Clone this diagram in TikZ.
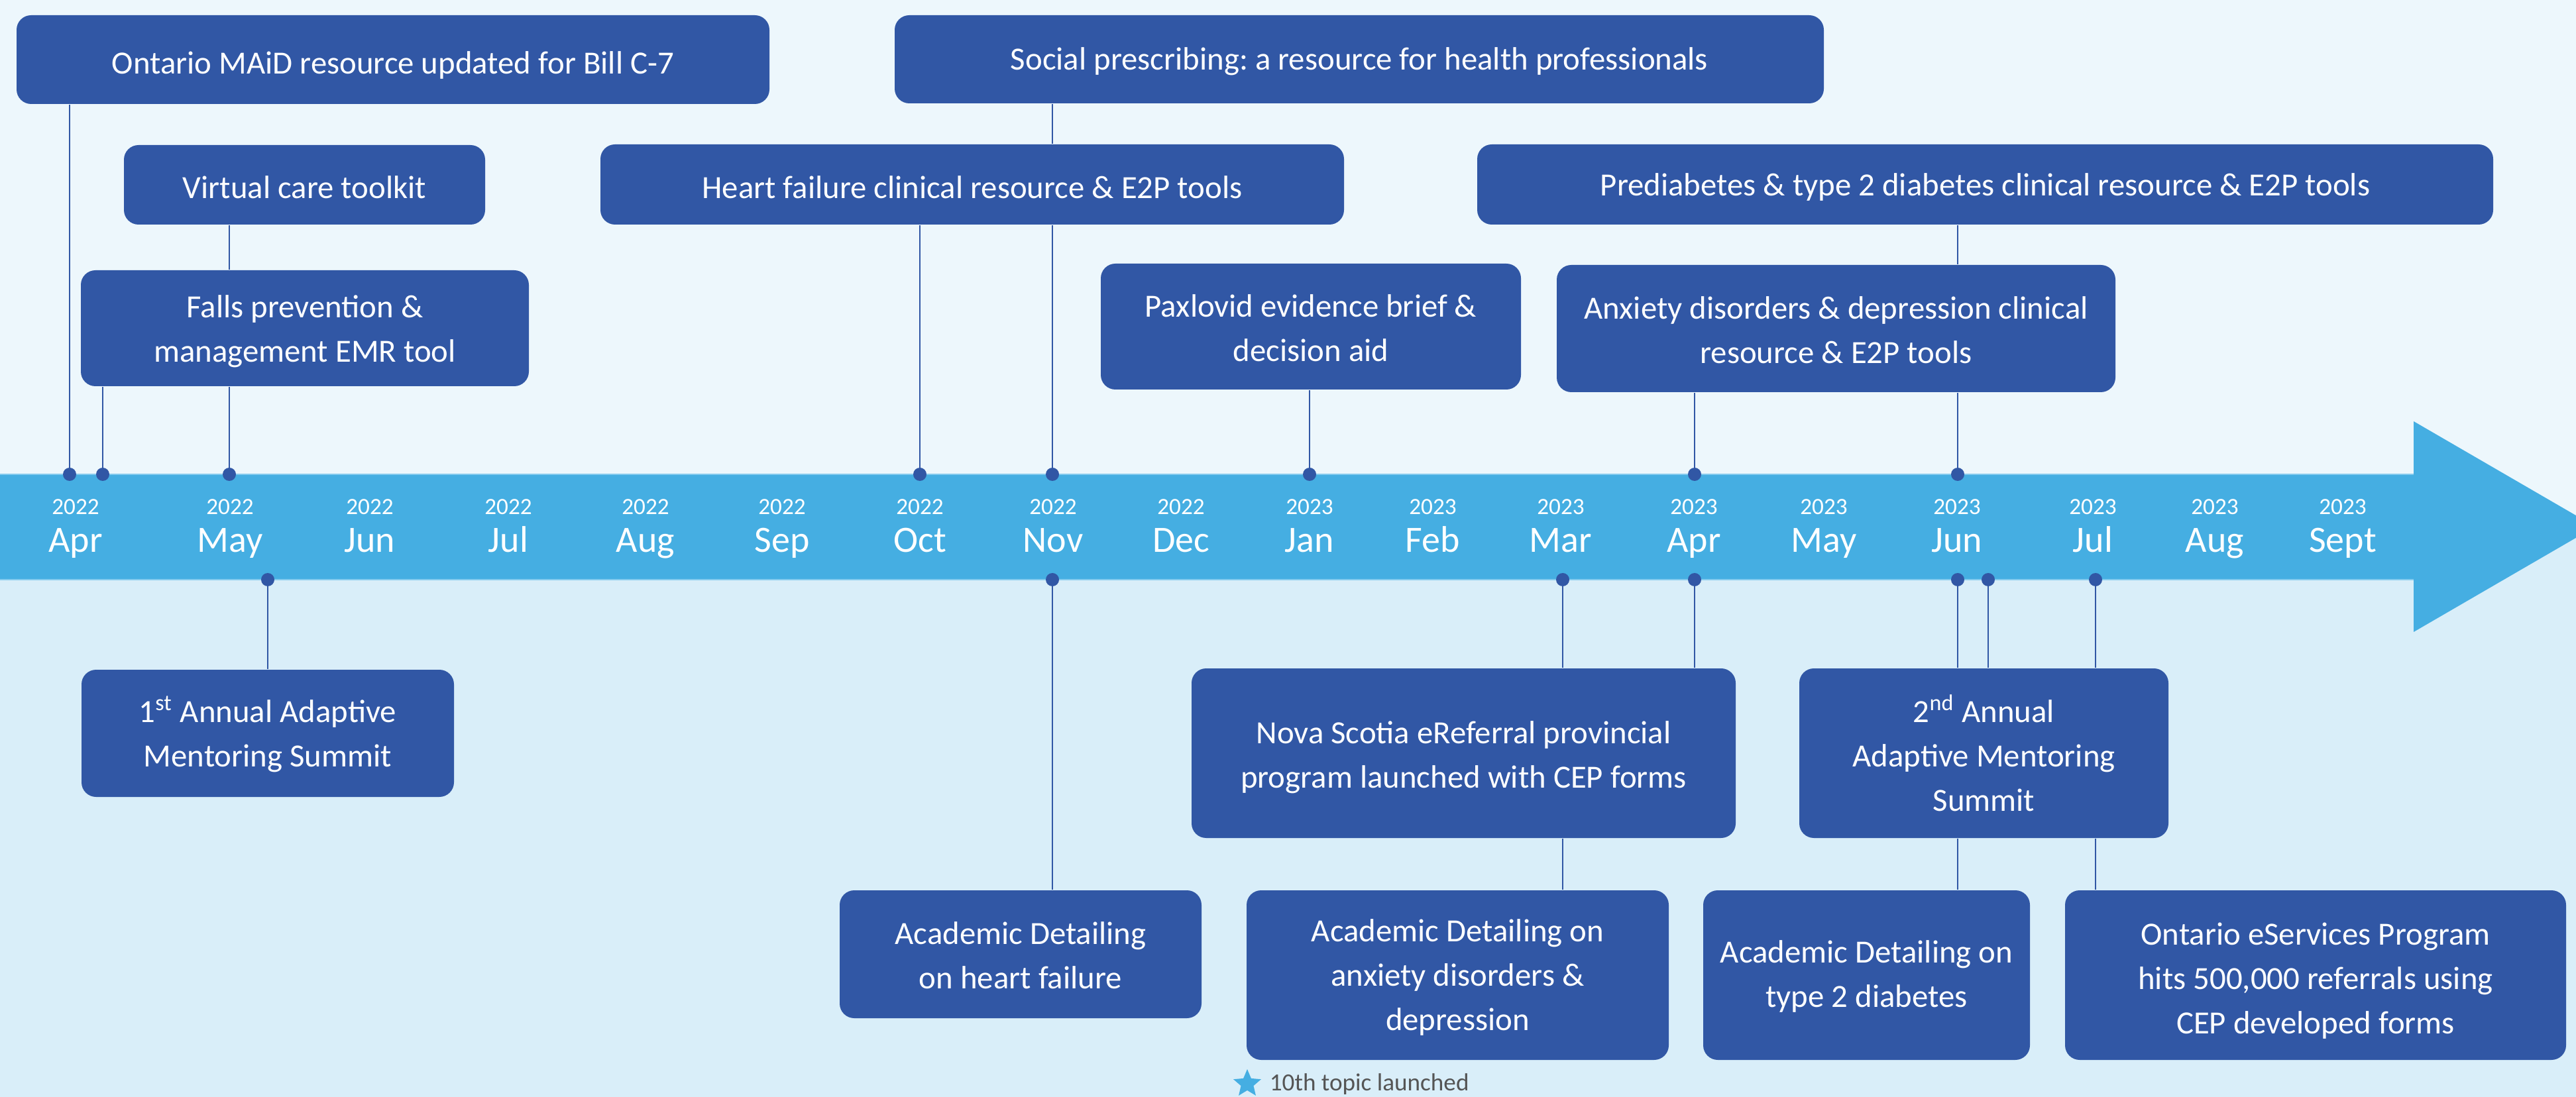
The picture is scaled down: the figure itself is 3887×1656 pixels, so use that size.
\documentclass[tikz,border=0pt]{standalone}
\usepackage{fontspec}
\setmainfont{Carlito}
\frenchspacing
\usetikzlibrary{shapes.geometric}
\definecolor{boxblue}{HTML}{3157A5}
\definecolor{bandblue}{HTML}{45AEE2}
\definecolor{bandedge}{HTML}{86CBEE}
\definecolor{bgtop}{HTML}{EDF7FC}
\definecolor{bgbot}{HTML}{D9EEF9}
\definecolor{graytext}{HTML}{555555}
\newcommand\boxfont{\fontsize{12.2pt}{16.75pt}\selectfont}
\newcommand\monthfont{\fontsize{14pt}{16pt}\selectfont}
\newcommand\yearfont{\fontsize{8.8pt}{10pt}\selectfont}
\newcommand\notefont{\fontsize{9.3pt}{11pt}\selectfont}
\tikzset{
  evshape/.style={fill=boxblue, rounded corners=5.5pt, inner sep=0pt},
  evtext/.style={text=white, font=\boxfont, align=center, inner sep=0pt},
  link/.style={draw=boxblue, line width=0.55pt},
  dotmark/.style={fill=boxblue},
  monthlbl/.style={anchor=base, text=white, font=\monthfont, inner sep=0pt},
  yearlbl/.style={anchor=base, text=white, font=\yearfont, inner sep=0pt},
}
% name, cx, cy, width, height, text shift, text
\newcommand\mkevent[7]{%
  \node[evshape, minimum width=#4, minimum height=#5] (#1) at (#2,#3) {};
  \node[evtext, yshift=#6] (#1t) at (#1.center) {#7};}
\begin{document}
\begin{tikzpicture}[x=0.25pt,y=-0.25pt]
\useasboundingbox (0,0) rectangle (3887,1656);
\clip (0,0) rectangle (3887,1656);
% background
\fill[bgtop] (0,0) rectangle (3887,795);
\fill[bgbot] (0,795) rectangle (3887,1656);
% timeline arrow
\fill[bandblue] (0,716) -- (3642,716) -- (3642,636) -- (3916,795) -- (3642,954) -- (3642,875) -- (0,875) -- cycle;
\draw[bandedge, line width=0.4pt] (0,716) -- (3642,716);
\draw[bandedge, line width=0.4pt] (0,875) -- (3642,875);

% dot coordinates
\coordinate (u1) at (105,716);
\coordinate (u2) at (155,716);
\coordinate (u3) at (346,716);
\coordinate (u4) at (1388,716);
\coordinate (u5) at (1588,716);
\coordinate (u6) at (1976,716);
\coordinate (u7) at (2557,716);
\coordinate (u8) at (2954,716);
\coordinate (d1) at (404,875);
\coordinate (d2) at (1588,875);
\coordinate (d3) at (2358,875);
\coordinate (d4) at (2557,875);
\coordinate (d5) at (2954,875);
\coordinate (d6) at (3000,875);
\coordinate (d7) at (3162,875);

% month labels
\foreach \mx/\yr/\mo [count=\i] in {114/2022/Apr,347/2022/May,558/2022/Jun,767/2022/Jul,974/2022/Aug,1180/2022/Sep,1388/2022/Oct,1589/2022/Nov,1782/2022/Dec,1976/2023/Jan,2162/2023/Feb,2355/2023/Mar,2556/2023/Apr,2752/2023/May,2953/2023/Jun,3158/2023/Jul,3342/2023/Aug,3535/2023/Sept}{
  \node[yearlbl] (yr\i) at (\mx,777) {\yr};
  \node[monthlbl] (mo\i) at (\mx,834) {\mo};
}

% upper boxes
\mkevent{maid}{593}{90}{284pt}{33.5pt}{-2.2pt}{Ontario MAiD resource updated for Bill C-7}
\mkevent{virtual}{459.5}{279}{136.25pt}{30pt}{-1pt}{Virtual care toolkit}
\mkevent{falls}{460}{495.5}{169pt}{43.75pt}{-1.2pt}{Falls prevention \&\\management EMR tool}
\mkevent{heart}{1467}{278.5}{280.5pt}{30.25pt}{-1pt}{Heart failure clinical resource \& E2P tools}
\mkevent{social}{2051}{89.5}{350.5pt}{33.25pt}{-0.8pt}{Social prescribing: a resource for health professionals}
\mkevent{pax}{1978}{493}{158.5pt}{47.5pt}{-0.6pt}{Paxlovid evidence brief \&\\decision aid}
\mkevent{prediab}{2995.5}{278.5}{383.25pt}{30.25pt}{-1pt}{Prediabetes \& type 2 diabetes clinical resource \& E2P tools}
\mkevent{anxiety}{2770.5}{496}{210.75pt}{48pt}{-0.6pt}{Anxiety disorders \& depression clinical\\resource \& E2P tools}

% lower boxes
\mkevent{first}{404}{1107}{140.5pt}{48pt}{-0.3pt}{1\textsuperscript{st} Annual Adaptive\\Mentoring Summit}
\mkevent{adhf}{1540}{1440.5}{136.5pt}{48.25pt}{-0.5pt}{Academic Detailing\\on heart failure}
\mkevent{ns}{2208.5}{1137}{205.25pt}{64pt}{-1.6pt}{Nova Scotia eReferral provincial\\program launched with CEP forms}
\mkevent{adanx}{2199.5}{1472}{159.25pt}{64pt}{-0.8pt}{Academic Detailing on\\anxiety disorders \&\\depression}
\mkevent{second}{2993.5}{1137}{139.25pt}{64pt}{0pt}{2\textsuperscript{nd} Annual\\Adaptive Mentoring\\Summit}
\mkevent{adt2}{2816.5}{1472}{123.25pt}{64pt}{-0.6pt}{Academic Detailing on\\type 2 diabetes}
\mkevent{eserv}{3494}{1472}{189pt}{64pt}{-2.2pt}{Ontario eServices Program\\hits 500,000 referrals using\\CEP developed forms}

% upper connectors
\draw[link] (maid.south -| u1) -- (u1);
\draw[link] (falls.south -| u2) -- (u2);
\draw[link] (virtual.south -| u3) -- (falls.north -| u3);
\draw[link] (falls.south -| u3) -- (u3);
\draw[link] (heart.south -| u4) -- (u4);
\draw[link] (social.south -| u5) -- (heart.north -| u5);
\draw[link] (heart.south -| u5) -- (u5);
\draw[link] (pax.south -| u6) -- (u6);
\draw[link] (anxiety.south -| u7) -- (u7);
\draw[link] (prediab.south -| u8) -- (anxiety.north -| u8);
\draw[link] (anxiety.south -| u8) -- (u8);
% lower connectors
\draw[link] (d1) -- (first.north -| d1);
\draw[link] (d2) -- (adhf.north -| d2);
\draw[link] (d3) -- (ns.north -| d3);
\draw[link] (ns.south -| d3) -- (adanx.north -| d3);
\draw[link] (d4) -- (ns.north -| d4);
\draw[link] (d5) -- (second.north -| d5);
\draw[link] (second.south -| d5) -- (adt2.north -| d5);
\draw[link] (d6) -- (second.north -| d6);
\draw[link] (d7) -- (second.north -| d7);
\draw[link] (second.south -| d7) -- (eserv.north -| d7);

% dots
\foreach \p in {u1,u2,u3,u4,u5,u6,u7,u8,d1,d2,d3,d4,d5,d6,d7}{
  \fill[dotmark] (\p) circle[radius=2.5pt];
}

% note
\node[star, star points=5, star point ratio=2.2, fill=bandblue, inner sep=0pt, minimum size=11pt] (starmark) at (1882,1636) {};
\node[anchor=base west, text=graytext, font=\notefont, inner sep=0pt] (note) at (1915,1646) {10th topic launched};
\end{tikzpicture}
\end{document}
